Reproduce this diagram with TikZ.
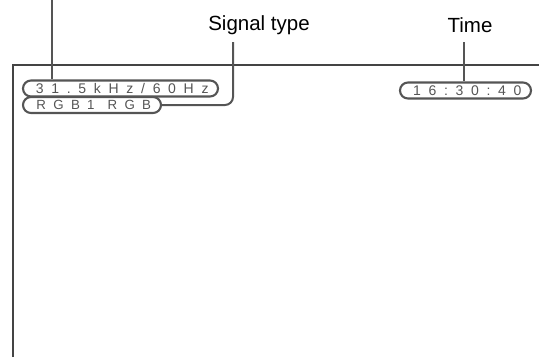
\documentclass[tikz,border=0pt]{standalone}
\usepackage{fontspec}
\setmainfont{Liberation Sans}
\newfontfamily\osdfont[LetterSpace=55]{Liberation Sans}
\usetikzlibrary{positioning}
\definecolor{osdc}{HTML}{555555}
\definecolor{framec}{HTML}{444444}
\tikzset{
  pill/.style={rectangle, rounded corners=8pt, draw=osdc, line width=2.1pt, minimum height=16pt,
    inner sep=0pt, text=osdc, font=\osdfont\fontsize{14}{15}\selectfont,
    execute at begin node=\hspace{3.5pt}},
  lead/.style={draw=osdc, line width=2pt},
  lbl/.style={font=\fontsize{20.5}{22}\selectfont, inner sep=0pt},
  edge/.style={draw=framec, line width=1.6pt},
}

\begin{document}
\begin{tikzpicture}[x=1pt,y=-1pt]
  \useasboundingbox (0,0) rectangle (539,357);
  \draw[edge] (13,357) -- (13,65) -- (539,65);
  % on-screen readouts
  \node[pill, minimum width=195pt] (freq) at (120.5,88.5) {31.5kHz/60Hz};
  \node[pill, minimum width=138pt, font=\osdfont\fontsize{13.3}{15}\selectfont] (sig) at (92,105)
    {RGB1\hspace{2pt} RGB};
  \node[pill, minimum width=131pt] (time) at (465.5,90.5) {16:30:40};
  \node[lbl] (siglbl) at (259,25) {Signal type};
  \node[lbl] (timelbl) at (470,25) {Time};
  \coordinate (freqtop) at (52,0);
  \coordinate (sigbend) at (233,42);
  \coordinate (timetop) at (464,42);
  \draw[lead] (freqtop) -- (freqtop |- freq.north);
  \draw[lead, rounded corners=8pt] (sig.east) -| (sigbend);
  \draw[lead] (timetop) -- (timetop |- time.north);
\end{tikzpicture}
\end{document}
